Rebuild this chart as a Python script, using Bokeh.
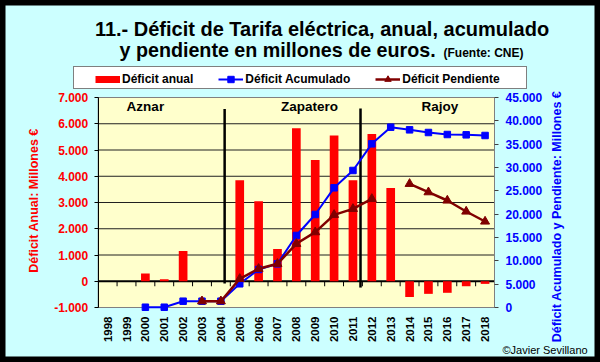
import math
import numpy as np
from bokeh.plotting import figure
from bokeh.models import (Range1d, LinearAxis, FixedTicker, Label, Legend,
                          LegendItem, ColumnDataSource)
from bokeh.embed import file_html
from bokeh.resources import INLINE

nan = float("nan")

# ---------------- data ----------------
years = list(range(1998, 2019))
deficit_anual = [nan, nan, 300, 80, 1150, nan, nan, 3850, 3050, 1230, 5830,
                 4620, 5550, 3850, 5610, 3550, -600, -480, -440, -190, -100]
deficit_acumulado = [nan, nan, 60, 60, 1350, 1350, 1350, 5080, 8150, 9360,
                     15430, 19930, 25650, 29360, 35070, 38640, 38070, 37500,
                     37070, 37000, 36860]
deficit_pendiente = [nan, nan, nan, nan, nan, 1350, 1350, 6140, 8300, 9360,
                     13650, 16140, 19860, 21140, 23280, nan, 26500, 24710,
                     22930, 20570, 18430]

left_ticks = [-1000, 0, 1000, 2000, 3000, 4000, 5000, 6000, 7000]
left_tick_labels = ["-1.000", "0", "1.000", "2.000", "3.000", "4.000",
                    "5.000", "6.000", "7.000"]
right_ticks = [0, 5000, 10000, 15000, 20000, 25000, 30000, 35000, 40000, 45000]
right_tick_labels = ["0", "5.000", "10.000", "15.000", "20.000", "25.000",
                     "30.000", "35.000", "40.000", "45.000"]
grid_ticks = [1000, 2000, 3000, 4000, 5000, 6000]

eras = ["Aznar", "Zapatero", "Rajoy"]
era_x = [2000.0, 2008.7, 2015.6]
era_split_x = [2004.2, 2011.4]
era_split_top = [6560, 6580]
era_split_bottom = [-90, -240]

title_1 = "11.- Déficit de Tarifa eléctrica, anual, acumulado"
title_2 = "y pendiente en millones de euros."
title_src = "(Fuente: CNE)"
label_left = "Déficit Anual: Millones €"
label_right = "Déficit Acumulado y Pendiente: Millones €"
credit = "©Javier Sevillano"

# ---------------- styles / geometry ----------------
FONT = "Liberation Sans"
RED = "#FF0000"
BLUE = "#0000FF"
BROWN = "#800000"
CYAN = "#CCFFFF"
YELLOW = "#FFFFCC"

W, H = 600, 362
X0, X1 = 1997.5, 2018.5          # category span of the plot area
Y0, Y1 = -1000, 7000             # left axis span
R0, R1 = 0, 45000                # right axis span
PL, PR, PT, PB = 97.7, 494.0, 97.0, 307.0   # plot area in page pixels
BASE = 0.36                      # baseline correction (fraction of font size)

xs = (X1 - X0) / (PR - PL)
ys = (Y1 - Y0) / (PB - PT)
rs = (R1 - R0) / (PB - PT)
XA, XB = X0 - PL * xs, X1 + (W - PR) * xs
YA, YB = Y0 - (H - PB) * ys, Y1 + PT * ys
RA, RB = R0 - (H - PB) * rs, R1 + PT * rs


def fx(px):
    return X0 + (px - PL) * xs


def fy(py):
    return Y0 + (PB - py) * ys


def fb(py, size):
    """page baseline -> data y for a label of the given font size"""
    return fy(py - BASE * size)


src = ColumnDataSource(dict(
    x=np.array(years, dtype=float),
    anual=np.array(deficit_anual, dtype=float),
    acum=np.array(deficit_acumulado, dtype=float),
    pend=np.array(deficit_pendiente, dtype=float),
))

p = figure(width=W, height=H, output_backend="svg", toolbar_location=None,
           x_range=Range1d(XA, XB), y_range=Range1d(YA, YB),
           background_fill_color=CYAN, border_fill_color=CYAN)
p.min_border = 0
p.min_border_left = 0
p.min_border_right = 0
p.min_border_top = 0
p.min_border_bottom = 0
p.extra_y_ranges = {"right": Range1d(RA, RB)}
p.outline_line_color = "black"
p.outline_line_width = 10
p.xgrid.visible = False
p.ygrid.visible = False

# plot area
p.quad(left=[X0], right=[X1], bottom=[Y0], top=[Y1], fill_color=YELLOW,
       line_color="#808080", line_width=1)
# grid lines
p.segment(x0=[X0] * len(grid_ticks), y0=grid_ticks,
          x1=[X1] * len(grid_ticks), y1=grid_ticks,
          line_color="#202020", line_width=1)

# left axis
ya = p.yaxis[0]
ya.fixed_location = X0
ya.bounds = (Y0, Y1)
ya.ticker = FixedTicker(ticks=left_ticks)
ya.major_label_overrides = {t: l for t, l in zip(left_ticks, left_tick_labels)}
ya.minor_tick_line_color = None
ya.major_tick_in = 0
ya.major_tick_out = 4
ya.major_tick_line_color = "black"
ya.axis_line_color = "black"
ya.major_label_standoff = 6
ya.major_label_text_color = RED
ya.major_label_text_font = FONT
ya.major_label_text_font_style = "bold"
ya.major_label_text_font_size = "12px"

# right axis
ra = LinearAxis(y_range_name="right", ticker=FixedTicker(ticks=right_ticks),
                fixed_location=X1, bounds=(R0, R1))
ra.major_label_overrides = {t: l for t, l in zip(right_ticks, right_tick_labels)}
ra.minor_tick_line_color = None
ra.major_tick_in = 0
ra.major_tick_out = 4
ra.major_tick_line_color = "#404040"
ra.axis_line_color = "#808080"
ra.major_label_standoff = 7
ra.major_label_text_color = BLUE
ra.major_label_text_font = FONT
ra.major_label_text_font_style = "bold"
ra.major_label_text_font_size = "12px"
p.add_layout(ra, "right")

# bottom axis (year labels)
xa = p.xaxis[0]
xa.fixed_location = Y0
xa.bounds = (X0, X1)
xa.ticker = FixedTicker(ticks=years)
xa.major_label_overrides = {y: str(y) for y in years}
xa.major_label_orientation = math.pi / 2
xa.axis_line_color = None
xa.major_tick_line_color = None
xa.minor_tick_line_color = None
xa.major_label_standoff = 3
xa.major_label_text_font = FONT
xa.major_label_text_font_style = "bold"
xa.major_label_text_font_size = "11.5px"
xa.major_label_text_color = "black"

# zero line and category ticks on it
p.segment(x0=[X0], y0=[0], x1=[X1], y1=[0], line_color="black", line_width=2)
bounds = [y + 0.5 for y in years[:-1]]
p.segment(x0=bounds, y0=[0] * len(bounds), x1=bounds,
          y1=[-5 * ys] * len(bounds), line_color="black", line_width=1)

# bars
p.vbar(x="x", top="anual", bottom=0, width=0.46, source=src,
       fill_color=RED, line_color=None)

# era separators
p.segment(x0=era_split_x, y0=era_split_top, x1=era_split_x,
          y1=era_split_bottom, line_color="black", line_width=2.5)

# lines
l_acum = p.line("x", "acum", source=src, y_range_name="right",
                line_color=BLUE, line_width=2)
m_acum = p.scatter("x", "acum", source=src, y_range_name="right",
                   marker="square", size=6.5, fill_color=BLUE, line_color=BLUE)
l_pend = p.line("x", "pend", source=src, y_range_name="right",
                line_color=BROWN, line_width=2.5)
m_pend = p.scatter("x", "pend", source=src, y_range_name="right",
                   marker="triangle", size=9, fill_color=BROWN,
                   line_color=BROWN)

# legend swatches (no data drawn)
sw_red = p.line(x=[nan, nan], y=[nan, nan], line_color=RED, line_width=7)
sw_box = p.line(x=[nan, nan], y=[nan, nan], line_alpha=0)

# era labels
for name, ex in zip(eras, era_x):
    p.add_layout(Label(x=ex, y=fb(110.5, 13.5), text=name,
                       text_align="center", text_baseline="alphabetic",
                       text_font=FONT, text_font_style="bold",
                       text_font_size="13.5px", text_color="black"))

# legend box
box = Legend(items=[LegendItem(label=" ", renderers=[sw_box])],
             location=(72.7, H - 89.3), orientation="horizontal",
             padding=0, margin=0, glyph_width=452, glyph_height=21,
             label_height=21, label_width=0, label_standoff=0,
             label_text_font_size="1px", border_line_color="black",
             border_line_width=1, background_fill_color="white",
             background_fill_alpha=1)
p.add_layout(box)

leg = Legend(items=[LegendItem(label="Déficit anual", renderers=[sw_red]),
                    LegendItem(label="Déficit Acumulado",
                               renderers=[l_acum, m_acum]),
                    LegendItem(label="Déficit Pendiente",
                               renderers=[l_pend, m_pend])],
             location=(95, H - 87.3), orientation="horizontal",
             padding=0, margin=0, spacing=25, glyph_width=25,
             glyph_height=16, label_height=16, label_width=0,
             label_standoff=2, border_line_color=None,
             background_fill_alpha=0, label_text_font=FONT,
             label_text_font_style="bold", label_text_font_size="12px",
             label_text_color="black")
p.add_layout(leg)

# titles
p.add_layout(Label(x=fx(321.5), y=fb(36, 20), text=title_1,
                   text_align="center", text_baseline="alphabetic",
                   text_font=FONT, text_font_style="bold",
                   text_font_size="20px", text_color="black"))
p.add_layout(Label(x=fx(119), y=fb(56.5, 19.7), text=title_2,
                   text_align="left", text_baseline="alphabetic",
                   text_font=FONT, text_font_style="bold",
                   text_font_size="19.7px", text_color="black"))
p.add_layout(Label(x=fx(443), y=fb(56.5, 12), text=title_src,
                   text_align="left", text_baseline="alphabetic",
                   text_font=FONT, text_font_style="bold",
                   text_font_size="12px", text_color="black"))

# axis titles
p.add_layout(Label(x=fx(33), y=fy(200), text=label_left, angle=math.pi / 2,
                   text_align="center", text_baseline="middle",
                   text_font=FONT, text_font_style="bold",
                   text_font_size="12.5px", text_color=RED))
p.add_layout(Label(x=fx(556), y=fy(216), text=label_right, angle=math.pi / 2,
                   text_align="center", text_baseline="middle",
                   text_font=FONT, text_font_style="bold",
                   text_font_size="12.5px", text_color=BLUE))

# credit
p.add_layout(Label(x=fx(502), y=fb(353, 11), text=credit, text_align="left",
                   text_baseline="alphabetic", text_font=FONT,
                   text_font_size="11px", text_color="black"))

open("out.html", "w").write(file_html(p, INLINE))
